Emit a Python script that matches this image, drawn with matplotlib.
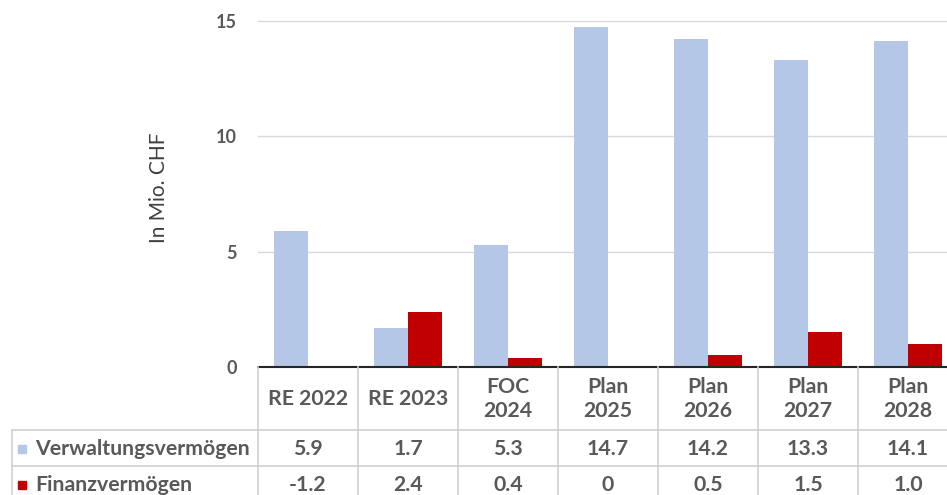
import matplotlib.pyplot as plt
from matplotlib.transforms import blended_transform_factory
from matplotlib.lines import Line2D
from matplotlib.patches import Rectangle
import numpy as np

categories = ["RE 2022", "RE 2023", "FOC\n2024", "Plan\n2025", "Plan\n2026", "Plan\n2027", "Plan\n2028"]
verwaltung = [5.9, 1.7, 5.3, 14.7, 14.2, 13.3, 14.1]
finanz = [-1.2, 2.4, 0.4, 0, 0.5, 1.5, 1.0]
verwaltung_labels = ["5.9", "1.7", "5.3", "14.7", "14.2", "13.3", "14.1"]
finanz_labels = ["-1.2", "2.4", "0.4", "0", "0.5", "1.5", "1.0"]
series_names = ["Verwaltungsvermögen", "Finanzvermögen"]

BLUE = "#B4C7E7"
RED = "#C00000"
TXT = "#595959"
GRID = "#D9D9D9"

plt.rcParams['font.family'] = ['Lato', 'DejaVu Sans']

W, H = 947, 495
fig = plt.figure(figsize=(W / 100, H / 100), dpi=100)

def fy(py):
    # pixel row from top -> figure fraction
    return 1 - py / H

def fx(px):
    return px / W

# axes: x from 258px to 958px (slightly cut off on the right), zero line at 367px
ax = fig.add_axes([fx(258), fy(367), fx(700), (367 - 9) / H])
x = np.arange(len(categories))
bw = 0.34
ax.bar(x - bw / 2, verwaltung, bw, color=BLUE, zorder=2)
ax.bar(x + bw / 2, finanz, bw, color=RED, zorder=2)

ax.set_xlim(-0.5, len(categories) - 0.5)
ax.set_ylim(0, 15.5)
ax.set_yticks([0, 5, 10, 15])
ax.set_xticks([])
ax.grid(axis='y', color=GRID, linewidth=1, zorder=0)
for s in ['top', 'right', 'left']:
    ax.spines[s].set_visible(False)
ax.spines['bottom'].set_color('#262626')
ax.spines['bottom'].set_linewidth(1.5)
ax.spines['bottom'].set_zorder(3)
ax.tick_params(axis='y', length=0, pad=15, labelsize=13, labelcolor=TXT)
for lbl in ax.get_yticklabels():
    lbl.set_fontweight('bold')
ax.set_ylabel("In Mio. CHF", fontsize=15, color='#404040', labelpad=34)

# data table below the axes
tr = blended_transform_factory(ax.transData, fig.transFigure)
lc = "#D0D0D0"
row_lines = [430, 466, 502]
left_px = 12
for py in row_lines:
    fig.add_artist(Line2D([fx(left_px), 1.02], [fy(py), fy(py)], color=lc, lw=1.2))
fig.add_artist(Line2D([fx(left_px), fx(left_px)], [fy(430), fy(502)], color=lc, lw=1.2))
for k in range(len(categories) + 1):
    fig.add_artist(Line2D([k - 0.5, k - 0.5], [fy(367), fy(502)], color=lc, lw=1.2,
                          transform=tr))

fs = 15.3
for i, cat in enumerate(categories):
    fig.text(i, fy(399), cat, transform=tr, ha='center', va='center',
             fontsize=fs, fontweight='bold', color=TXT, linespacing=1.3)
    fig.text(i, fy(449), verwaltung_labels[i], transform=tr, ha='center', va='center',
             fontsize=fs, fontweight='bold', color=TXT)
    fig.text(i, fy(485), finanz_labels[i], transform=tr, ha='center', va='center',
             fontsize=fs, fontweight='bold', color=TXT)

# legend keys in the table
for py, name, col in [(449, series_names[0], BLUE), (485, series_names[1], RED)]:
    fig.add_artist(Rectangle((fx(18), fy(py + 4)), fx(8), 8 / H, color=col))
    fig.text(fx(35), fy(py), name, ha='left', va='center',
             fontsize=fs, fontweight='bold', color=TXT)

plt.savefig('out.png', dpi=100)
